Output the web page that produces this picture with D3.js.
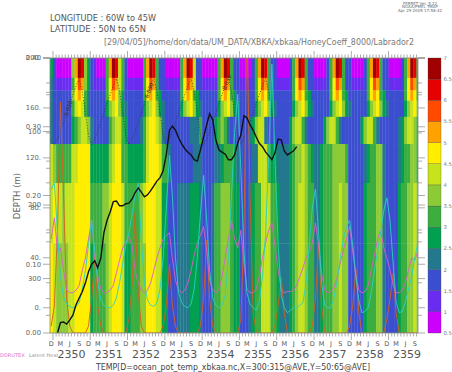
<!DOCTYPE html>
<html><head><meta charset="utf-8">
<script src="https://cdn.jsdelivr.net/npm/d3@7/dist/d3.min.js"></script>
<style>body{margin:0;background:#fff}svg{display:block}text{font-family:"DejaVu Sans",sans-serif}</style>
</head><body><svg id="c" width="452" height="372"></svg>
<script>
// ---------------- DATA ----------------
// months: index 0 = Dec 2349 ... index 118 = Oct 2359
const firstMonth = [2349, 11];
const depthEdges = [0, 27, 44, 58, 80, 117, 170, 252, 374];         // model level edges (m)
const colorLevels = [0.5,1,1.5,2,2.5,3,3.5,4,4.5,5,5.5,6,6.5,7];
const palette = ["#cc00ff","#6a2cf0","#3c4ed0","#23788e","#00a050","#3cae40","#8ccb35","#c6e31c","#ffee00","#ffa200","#ff4a00","#e60000","#a00000"];
// temperature level code per month (0 -> 0.5..1 ... c -> 6.5..7), one string per depth level
const tempL1 = ["4","20000069cb64","2100059cb752","0000059cb522","0000059cb722","0000059cb522","0000259cb522","0000259cb522","0000259cb522","0000259cb522","0000259cb5"].join("");
const tempL2 = ["3","21111158a964","2111158a9752","1111158a9522","1111158a9722","1111158a9522","1111258a9522","1111258a9522","1111258a9522","1111258a9522","1111258a95"].join("");
const tempL3 = ["3","222222689853","222225898642","222225898542","222225898542","222225898542","222225898542","222225898542","222225898542","222225898542","2222258985"].join("");
const tempL4 = ["3","222222578753","222224678643","222224678643","222224678643","222224678643","222224678643","222224678643","222224678643","222224678643","2222246786"].join("");
const tempL5 = ["32","22222","4","5677","6","322222","5","677","54","22223","5","788","76","32222","2222333","5","2222","456","5322","2222","34","677","32222","222","4677","5322","222","4677","53222","222","4677","53222","222","34677","65"].join("");
const tempL6 = ["76","55555","77","8888","444444","67","885","5444445","78887","55","322","2222233","32222","3345554","32222","337","775","443","333","45","6676","54","33","4555","66665","22222","3455","66","32222","345","5665"].join("");
const tempL7 = ["78","7767778","8888","555566","7","8887","5555567","88877","44","222","33334443","2223","5566654","42223","455","777","554","333","45","6776","55","33","4555","66766","22222","4555","66","32222","455","6676"].join("");
const tempL8 = ["87","6666778","8888","455556","7","8887","4455566","88877","44","222","33334443","2223","5566654","42223","455","777","554","333","45","6776","55","33","4555","66766","22222","4555","66","32222","455","6676"].join("");
const tempRows = [tempL1,tempL2,tempL3,tempL4,tempL5,tempL6,tempL7,tempL8];

// black line (0.00-0.40 axis), monthly from Feb 2350
const blackStart = 2;
const blackVals = [0,0.015,0.016,0.013,0.019,0.026,0.041,0.051,0.060,0.073,0.089,0.100,0.105,0.095,0.109,0.146,0.164,0.176,0.191,0.192,0.185,0.185,0.188,0.189,0.195,0.204,0.211,0.205,0.198,0.201,0.207,0.214,0.221,0.226,0.236,0.259,0.295,0.301,0.295,0.284,0.275,0.268,0.263,0.259,0.252,0.250,0.266,0.285,0.303,0.319,0.310,0.281,0.266,0.263,0.260,0.252,0.252,0.259,0.276,0.288,0.316,0.313,0.303,0.295,0.285,0.276,0.271,0.263,0.258,0.252,0.262,0.282,0.281,0.265,0.259,0.262,0.265,0.271];
// cyan & pink lines (0.-200. axis), orange line (0.00-0.40 axis), monthly from Dec 2349
const cyanVals = [95,
 100,60,25,8,3,1,0,1,4,15,30,50,
 70,45,20,6,2,0,0,2,8,20,35,50,
 60,75,90,100,55,20,6,2,1,4,15,40,
 80,122,90,40,12,4,1,0,3,15,40,75,
 106,70,30,8,2,0,2,10,40,90,140,171,
 110,45,12,3,0,-2,5,25,60,120,195,120,
 50,10,0,-4,-2,0,0,2,4,20,50,80,
 95,60,20,2,0,0,8,22,40,55,65,70,
 50,25,6,-4,-3,0,12,30,45,60,78,88,
 70,35,5,-4,-3,5,15,25,40,52];
const pinkVals = [55,
 72,45,48,30,14,12,12,14,18,30,40,55,
 70,40,25,15,12,12,14,18,28,38,48,52,
 57,50,30,20,14,12,14,20,30,40,48,55,
 58,60,40,22,14,12,14,20,30,42,52,58,
 65,45,22,14,12,14,25,40,55,70,55,48,
 62,35,15,12,12,15,25,40,52,62,68,50,
 30,14,12,13,13,14,18,25,32,40,45,52,
 68,50,28,14,12,13,16,24,36,46,55,65,
 45,25,14,12,13,18,30,42,55,62,48,40,
 30,18,12,12,14,20,30,40,38,45];
const orangeVals = [0.01,
 0.04,0.15,0.336,0.2,0.05,0.01,0,0,0,0,0,0.01,
 0.05,0.113,0.04,0.01,0,0,0,0,0,0,0,0,
 0.02,0.07,0.175,0.06,0.01,0,0,0,0,0,0,0.01,
 0.04,0.1,0.04,0.01,0,0,0,0,0,0,0,0.01,
 0.05,0.135,0.05,0.01,0,0,0,0,0,0,0,0,
 0.02,0.15,0.45,0.2,0.03,0,0,0,0,0,0,0.01,
 0.04,0.081,0.03,0,0,0,0,0,0,0,0,0.01,
 0.05,0.131,0.04,0,0,0,0,0,0,0,0,0.01,
 0.04,0.092,0.03,0,0,0,0,0,0,0,0,0.02,
 0.05,0.087,0.03,0,0,0,0,0,0,0];
// dotted contour (depth, m), monthly from Dec 2349
const contourVals = [112,
 118,110,100,88,75,62,50,38,28,45,75,105,
 118,110,100,88,75,62,50,38,28,45,75,105,
 118,110,100,88,75,62,50,38,28,45,75,105,
 118,110,100,88,75,62,50,38,28,45,75,105,
 118,110,100,88,75,62,50,38,28,45,75,105,
 118,110,100,88,75,62,50,38,28,45,75,105];
const contourLabelMonths = [5, 31, 56];
const contourLabel = "0.030";
const yearLabels = ["2350","2351","2352","2353","2354","2355","2356","2357","2358","2359"];
const monthLetters = [[11,"D"],[2,"M"],[5,"J"],[8,"S"]];
const axisA = [0,40,80,120,160,200], axisALabels = ["0.","40.","80.","120.","160.","200."];
const axisB = [0,0.1,0.2,0.3,0.4], axisBLabels = ["0.00","0.10","0.20","0.30","0.40"];
const axisC = [100,200,300], axisCLabels = ["100","200","300"];
const cbLabels = ["0.5","1","1.5","2","2.5","3","3.5","4","4.5","5","5.5","6","6.5","7"];

// ---------------- DRAW ----------------
const svg = d3.select("#c");
const P = {l:50, r:418, t:58, b:333};
const mDate = (i, d) => new Date(Date.UTC(firstMonth[0], firstMonth[1] + i, d));
const x = d3.scaleUtc().domain([new Date(Date.UTC(2349,11,3)), new Date(Date.UTC(2359,9,16))]).range([P.l, P.r]);
const yC = d3.scaleLinear().domain([0, 374]).range([P.t, P.b]);
const yA = d3.scaleLinear().domain([-20.24, 200]).range([P.b, P.t]);
const yB = d3.scaleLinear().domain([0, 0.4]).range([P.b, P.t]);
const color = d3.scaleThreshold().domain(colorLevels.slice(1, -1)).range(palette);
const codeVal = ch => parseInt(ch, 36) * 0.5 + 0.75;

svg.append("clipPath").attr("id","clip").append("rect").attr("x",P.l).attr("y",P.t).attr("width",P.r-P.l).attr("height",P.b-P.t);
const g = svg.append("g").attr("clip-path","url(#clip)");

tempRows.forEach((row, r) => {
  g.selectAll(null).data(row.split("")).join("rect")
    .attr("x", (c,i) => x(mDate(i,1)))
    .attr("width", (c,i) => x(mDate(i+1,1)) - x(mDate(i,1)) + 0.3)
    .attr("y", yC(depthEdges[r]))
    .attr("height", yC(depthEdges[r+1]) - yC(depthEdges[r]) + 0.3)
    .attr("fill", c => color(codeVal(c)));
});

const lineOf = (vals, start, ys) => d3.line().x((v,i) => x(mDate(start+i,15))).y(v => ys(v))(vals);
g.append("path").attr("d", lineOf(contourVals,0,yC)).attr("fill","none").attr("stroke","#333").attr("stroke-width",0.8).attr("stroke-dasharray","1,1.8");
contourLabelMonths.forEach(i => {
  const x0 = x(mDate(i,15)), y0 = yC(contourVals[i]), x1 = x(mDate(i+1,15)), y1 = yC(contourVals[i+1]);
  const ang = Math.atan2(y1-y0, x1-x0) * 180 / Math.PI;
  g.append("text").attr("transform",`translate(${(x0+x1)/2},${(y0+y1)/2}) rotate(${ang})`).attr("text-anchor","middle").attr("dy",2).attr("font-size",5.5).attr("fill","#333").text(contourLabel);
});
g.append("path").attr("d", lineOf(orangeVals,0,yB)).attr("fill","none").attr("stroke","#d2601e").attr("stroke-width",0.9);
g.append("path").attr("d", lineOf(pinkVals,0,yA)).attr("fill","none").attr("stroke","#d860c8").attr("stroke-width",0.9);
g.append("path").attr("d", lineOf(cyanVals,0,yA)).attr("fill","none").attr("stroke","#2ad0c0").attr("stroke-width",0.9);
g.append("path").attr("d", lineOf(blackVals,blackStart,yB)).attr("fill","none").attr("stroke","#111").attr("stroke-width",1.4);

// frame
svg.append("rect").attr("x",P.l).attr("y",P.t).attr("width",P.r-P.l).attr("height",P.b-P.t).attr("fill","none").attr("stroke","#888").attr("stroke-width",0.8);

const tickCol = "#888";
const months = d3.utcMonth.range(new Date(Date.UTC(2349,11,1)), new Date(Date.UTC(2359,10,1))).filter(d => x(d) >= P.l && x(d) <= P.r);
months.forEach(d => {
  const major = d.getUTCMonth() === 0;
  const L = major ? 7 : 3.5;
  svg.append("line").attr("x1",x(d)).attr("x2",x(d)).attr("y1",P.t).attr("y2",P.t-L).attr("stroke",tickCol).attr("stroke-width",0.7);
  svg.append("line").attr("x1",x(d)).attr("x2",x(d)).attr("y1",P.b).attr("y2",P.b+L).attr("stroke",tickCol).attr("stroke-width",0.7);
});
d3.range(0, 119).forEach(i => {
  const d = mDate(i,15);
  const ml = monthLetters.find(m => m[0] === d.getUTCMonth());
  if (ml && x(d) < P.r) svg.append("text").attr("x",x(d)).attr("y",345.5).attr("text-anchor","middle").attr("font-size",6.5).attr("fill","#555").text(ml[1]);
});
yearLabels.forEach((t,k) => {
  svg.append("text").attr("x", x(new Date(Date.UTC(2350+k,6,1)))).attr("y",357.5).attr("text-anchor","middle").attr("font-size",11).attr("fill","#555").text(t);
});

function vticks(scale, vals, majorEvery) {
  vals.forEach((v,k) => {
    const L = (k % majorEvery === 0) ? 7 : 4;
    const yy = scale(v);
    svg.append("line").attr("x1",P.l).attr("x2",P.l-L).attr("y1",yy).attr("y2",yy).attr("stroke",tickCol).attr("stroke-width",0.7);
    svg.append("line").attr("x1",P.r).attr("x2",P.r+L).attr("y1",yy).attr("y2",yy).attr("stroke",tickCol).attr("stroke-width",0.7);
  });
}
vticks(yA, d3.range(0, 201, 20), 2);
vticks(yB, d3.range(0, 0.401, 0.05), 2);
vticks(yC, d3.range(0, 374, 50), 2);
const lab = (scale, vals, labels) => vals.forEach((v,k) => svg.append("text").attr("x",41).attr("y",scale(v)+2.4).attr("text-anchor","end").attr("font-size",6.8).attr("fill","#666").text(labels[k]));
lab(yA, axisA, axisALabels);
lab(yB, axisB, axisBLabels);
lab(yC, axisC, axisCLabels);
svg.append("text").attr("transform","translate(20,196) rotate(-90)").attr("text-anchor","middle").attr("font-size",8.5).attr("fill","#666").text("DEPTH (m)");

// colorbar
const yCB = d3.scaleLinear().domain([0.5, 7]).range([P.b, P.t]);
palette.forEach((c,k) => {
  svg.append("rect").attr("x",428).attr("width",13).attr("y",yCB(colorLevels[k+1])).attr("height",yCB(colorLevels[k])-yCB(colorLevels[k+1])).attr("fill",c).attr("stroke","#444").attr("stroke-width",0.3);
});
cbLabels.forEach((t,k) => svg.append("text").attr("x",443.5).attr("y",yCB(colorLevels[k])+2).attr("font-size",5.3).attr("fill","#777").text(t));

// headers
svg.append("text").attr("x",50).attr("y",21).attr("font-size",8.6).attr("fill","#555").attr("textLength",106).attr("lengthAdjust","spacingAndGlyphs").text("LONGITUDE : 60W to 45W");
svg.append("text").attr("x",50).attr("y",31.5).attr("font-size",8.6).attr("fill","#555").attr("textLength",96).attr("lengthAdjust","spacingAndGlyphs").text("LATITUDE : 50N to 65N");
svg.append("text").attr("x",104).attr("y",44.5).attr("font-size",8).attr("fill","#777").attr("textLength",310).attr("lengthAdjust","spacingAndGlyphs").text("[29/04/05]/home/don/data/UM_DATA/XBKA/xbkaa/HoneyCoeff_8000/Labrador2");
[["FERRET Ver. 5.22",4.5],["NOAA/PMEL TMAP",8.2],["Apr 29 2005 17:58:42",12]].forEach(d => svg.append("text").attr("x",420).attr("y",d[1]).attr("text-anchor","middle").attr("font-size",4).attr("fill","#666").text(d[0]));
svg.append("text").attr("x",233).attr("y",369.5).attr("text-anchor","middle").attr("font-size",9.5).attr("fill","#444").attr("font-family","Liberation Serif, serif").attr("textLength",274).attr("lengthAdjust","spacingAndGlyphs").text("TEMP[D=ocean_pot_temp_xbkaa.nc,X=300:315@AVE,Y=50:65@AVE]");
svg.append("text").attr("x",0).attr("y",357).attr("font-size",5).attr("fill","#e070d0").text("DORUTEX");
svg.append("text").attr("x",29).attr("y",357).attr("font-size",5).attr("fill","#999").text("Latent Heat");
</script></body></html>
